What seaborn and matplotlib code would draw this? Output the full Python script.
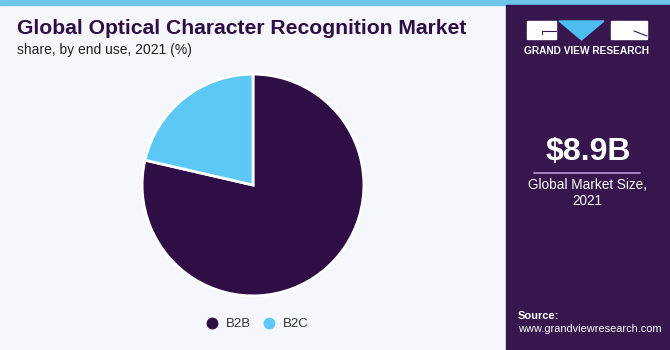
import matplotlib
matplotlib.use("Agg")
import matplotlib.pyplot as plt
import matplotlib.patches as mpatches
from matplotlib.lines import Line2D
import numpy as np
import seaborn as sns

# Market share by end use, 2021 (%)
segments = ["B2B", "B2C"]
shares = [78.6, 21.4]
colors = ["#2f0e46", "#5bc8f5"]

title = "Global Optical Character Recognition Market"
subtitle = "share, by end use, 2021 (%)"
market_size = "$8.9B"
market_label = "Global Market Size,\n2021"

sns.set_theme(style="white")
plt.rcParams["font.family"] = ["Liberation Sans", "DejaVu Sans"]

W, H = 670, 350
fig = plt.figure(figsize=(W / 100, H / 100), dpi=100)
fig.patch.set_facecolor("#f5f7fc")


def fx(x):
    return x / W


def fy(y):
    return 1 - y / H


# top stripe
fig.patches.append(mpatches.Rectangle((0, fy(5)), 1, 5 / H, transform=fig.transFigure,
                                      color="#6fc6ea", zorder=0))

# right-hand sidebar
sb_x = 506
fig.patches.append(mpatches.Rectangle((fx(sb_x), 0), 1 - fx(sb_x), fy(5), transform=fig.transFigure,
                                      color="#36164d", zorder=1))
# gradient at the bottom of the sidebar
grad_ax = fig.add_axes([fx(sb_x), 0, 1 - fx(sb_x), 85 / H])
grad = np.linspace(0, 1, 100).reshape(-1, 1)
cmap = matplotlib.colors.LinearSegmentedColormap.from_list("g", ["#3f8fc4", "#36164d"])
grad_ax.imshow(grad, aspect="auto", cmap=cmap, origin="lower", extent=[0, 1, 0, 1])
grad_ax.axis("off")

# logo
fig.patches.append(mpatches.Rectangle((fx(527), fy(39)), 29 / W, 18 / H, transform=fig.transFigure,
                                      color="white", zorder=3))
fig.patches.append(mpatches.Rectangle((fx(611), fy(39)), 36 / W, 18 / H, transform=fig.transFigure,
                                      color="white", zorder=3))
fig.patches.append(mpatches.Polygon([(fx(559), fy(21)), (fx(604), fy(21)), (fx(581.5), fy(40))],
                                    transform=fig.transFigure, color="#4dbdf0", zorder=3))
fig.lines.append(Line2D([fx(542), fx(556)], [fy(31), fy(31)], transform=fig.transFigure,
                        color="#36164d", lw=0.8, zorder=4))
fig.lines.append(Line2D([fx(542), fx(542)], [fy(31), fy(34)], transform=fig.transFigure,
                        color="#36164d", lw=0.8, zorder=4))
fig.lines.append(Line2D([fx(634), fx(647)], [fy(31), fy(36)], transform=fig.transFigure,
                        color="#36164d", lw=0.8, zorder=4))
fig.text(fx(587), fy(51), "GRAND VIEW RESEARCH", color="white", fontsize=7.3, fontweight="bold",
         ha="center", va="center", zorder=5)

# market size callout
fig.text(fx(588), fy(152), market_size, color="white", fontsize=23, fontweight="bold",
         ha="center", va="center", zorder=5)
fig.lines.append(Line2D([fx(534), fx(640)], [fy(173), fy(173)], transform=fig.transFigure,
                        color="#b89ad6", lw=1.2, zorder=5))
fig.text(fx(587), fy(193), market_label, color="white", fontsize=9.8, ha="center", va="center",
         linespacing=1.15, zorder=5)

# source
fig.text(fx(518), fy(316), "Source:", color="white", fontsize=8, fontweight="bold",
         ha="left", va="center", zorder=5)
fig.text(fx(518), fy(329), "www.grandviewresearch.com", color="white", fontsize=7.9,
         ha="left", va="center", zorder=5)

# titles
fig.text(fx(17), fy(29), title, color="#2f0e46", fontsize=15.2, fontweight="heavy",
         ha="left", va="center")
fig.text(fx(17), fy(50), subtitle, color="#222222", fontsize=10, ha="left", va="center")

# pie
r = 112
cx, cy = 253, 185
ax = fig.add_axes([fx(cx - r), fy(cy + r), 2 * r / W, 2 * r / H])
ax.pie(shares, colors=colors, startangle=90, counterclock=False, radius=1,
       wedgeprops=dict(edgecolor="white", linewidth=2))
ax.set_xlim(-1.01, 1.01)
ax.set_ylim(-1.01, 1.01)
ax.set_aspect("equal")
ax.axis("off")

# legend
handles = [Line2D([0], [0], marker="o", linestyle="", markersize=7.5, markerfacecolor=c,
                  markeredgecolor=c, label=s) for s, c in zip(segments, colors)]
fig.legend(handles=handles, loc="center", bbox_to_anchor=(fx(257), fy(324)), ncol=2,
           frameon=False, fontsize=9.5, handletextpad=0.55, columnspacing=0.8,
           handlelength=1.0, labelcolor="#333333")

fig.savefig("out.png", dpi=100, facecolor=fig.get_facecolor())
